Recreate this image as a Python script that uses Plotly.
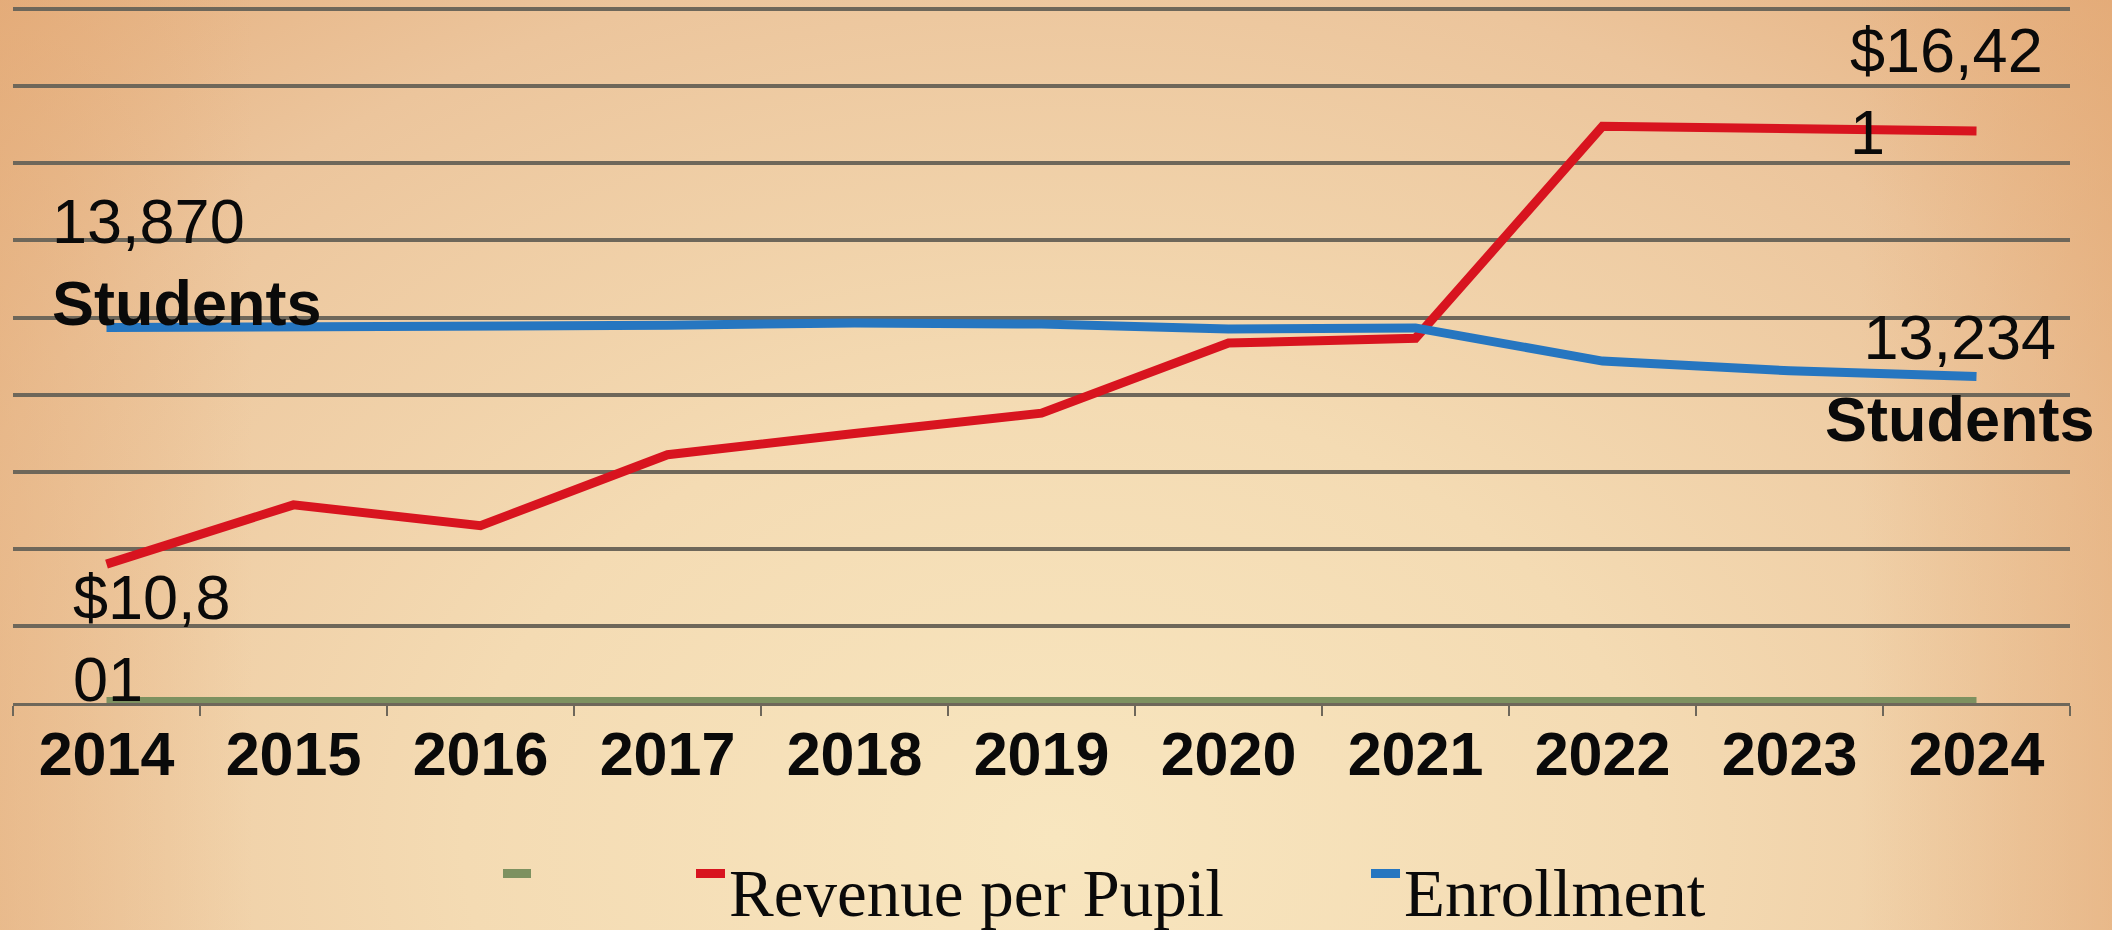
import base64
import plotly.graph_objects as go

# ---- data -------------------------------------------------------------
years = ["2014", "2015", "2016", "2017", "2018", "2019",
         "2020", "2021", "2022", "2023", "2024"]
baseline_series = [9000] * 11  # unnamed series resting on the axis floor
revenue_per_pupil = [10801, 11570, 11300, 12220, 12495, 12760,
                     13670, 13730, 16480, 16465, 16421]
enrollment = [13870, 13875, 13885, 13900, 13930, 13915,
              13850, 13865, 13435, 13310, 13234]

series_names = ["", "Revenue per Pupil", "Enrollment"]
series_colors = ["#7d9160", "#d8141f", "#2676c0"]

# ---- page geometry ----------------------------------------------------
W, H = 2112, 930
L, R, T, B = 13, 42, 8, 227
PW, PH = W - L - R, H - T - B


def px_x(p):
    return (p - L) / PW


def px_y(p):
    return (H - B - p) / PH


# parchment style backdrop: warm edges fading to a pale centre
svg = f"""<svg xmlns='http://www.w3.org/2000/svg' width='{W}' height='{H}' viewBox='0 0 {W} {H}'>
<defs>
<radialGradient id='g' cx='0.5' cy='0.9' r='0.8' gradientTransform='translate(0.5 0.9) scale(1 1.7) translate(-0.5 -0.9)'>
<stop offset='0' stop-color='#f8e6bf'/>
<stop offset='0.35' stop-color='#f4dbb3'/>
<stop offset='0.7' stop-color='#ecc59c'/>
<stop offset='1' stop-color='#e2a672'/>
</radialGradient>
<linearGradient id='e' x1='0' y1='0' x2='1' y2='0'>
<stop offset='0' stop-color='#e3a873' stop-opacity='0.45'/>
<stop offset='0.12' stop-color='#e3a873' stop-opacity='0'/>
<stop offset='0.88' stop-color='#e3a873' stop-opacity='0'/>
<stop offset='1' stop-color='#e3a873' stop-opacity='0.5'/>
</linearGradient>
</defs>
<rect width='{W}' height='{H}' fill='url(#g)'/>
<rect width='{W}' height='{H}' fill='url(#e)'/>
</svg>"""
bg_src = "data:image/svg+xml;base64," + base64.b64encode(svg.encode()).decode()

fig = go.Figure()

for vals, name, color, width in zip(
        [baseline_series, revenue_per_pupil, enrollment],
        series_names, series_colors, [12, 9, 9]):
    fig.add_trace(go.Scatter(
        x=years, y=vals, name=name, mode="lines",
        line=dict(color=color, width=width),
        showlegend=False, hoverinfo="skip"))

label_font = dict(family="Liberation Sans, Arial, sans-serif", size=63, color="#0a0a0a")

first, last = 0, len(years) - 1
rev_first = f"${revenue_per_pupil[first]:,}"
rev_last = f"${revenue_per_pupil[last]:,}"

# end-point value labels (category positions given by index)
labels = [
    dict(x=first, y=enrollment[first],
         text=f"{enrollment[first]:,}<br><b>Students</b>",
         xanchor="left", align="left", xshift=-57, yshift=66),
    dict(x=first, y=revenue_per_pupil[first],
         text=rev_first[:5] + "<br>" + rev_first[5:],
         xanchor="left", align="left", xshift=-36, yshift=-74),
    dict(x=last, y=revenue_per_pupil[last],
         text=rev_last[:6] + "<br>" + rev_last[6:],
         xanchor="left", align="left", xshift=-129, yshift=40),
    dict(x=last, y=enrollment[last],
         text=f"{enrollment[last]:,}<br><b>Students</b>",
         xanchor="center", align="center", xshift=-17, yshift=-1),
]
for a in labels:
    fig.add_annotation(xref="x", yref="y", showarrow=False,
                       yanchor="middle", font=label_font, **a)

# legend row: small swatch followed by the series name
legend_x = [(503, 531), (696, 725), (1371, 1400)]
for (x0, x1), name, color in zip(legend_x, series_names, series_colors):
    fig.add_shape(type="rect", xref="paper", yref="paper",
                  x0=px_x(x0), x1=px_x(x1), y0=px_y(878), y1=px_y(869),
                  fillcolor=color, line=dict(width=0))
    if name:
        fig.add_annotation(xref="paper", yref="paper", showarrow=False,
                           x=px_x(x1 + 2), y=px_y(893),
                           xanchor="left", yanchor="middle", text=name,
                           font=dict(family="Liberation Serif, Times New Roman, serif",
                                     size=67, color="#0a0a0a"))

grid_color = "#6e675a"

fig.update_layout(
    width=W, height=H,
    margin=dict(l=L, r=R, t=T, b=B),
    paper_bgcolor="#f0d2aa",
    plot_bgcolor="rgba(0,0,0,0)",
    images=[dict(source=bg_src, xref="paper", yref="paper",
                 x=px_x(0), y=px_y(0), sizex=W / PW, sizey=H / PH,
                 xanchor="left", yanchor="top", sizing="stretch",
                 layer="below")],
    xaxis=dict(
        type="category", range=[-0.5, 10.5],
        tickson="boundaries", ticks="outside", ticklen=10,
        tickwidth=2, tickcolor=grid_color,
        showline=True, linecolor=grid_color, linewidth=3,
        showgrid=False, layer="below traces",
        ticklabelstandoff=-4,
        tickfont=dict(family="Liberation Sans, Arial, sans-serif",
                      size=61, color="#0a0a0a", weight="bold"),
    ),
    yaxis=dict(
        range=[9000, 18015], dtick=1000, tick0=9000,
        showticklabels=False, ticks="", zeroline=False,
        showgrid=True, gridcolor=grid_color, gridwidth=4,
        showline=False, layer="below traces",
    ),
)

fig.write_html("out.html")
